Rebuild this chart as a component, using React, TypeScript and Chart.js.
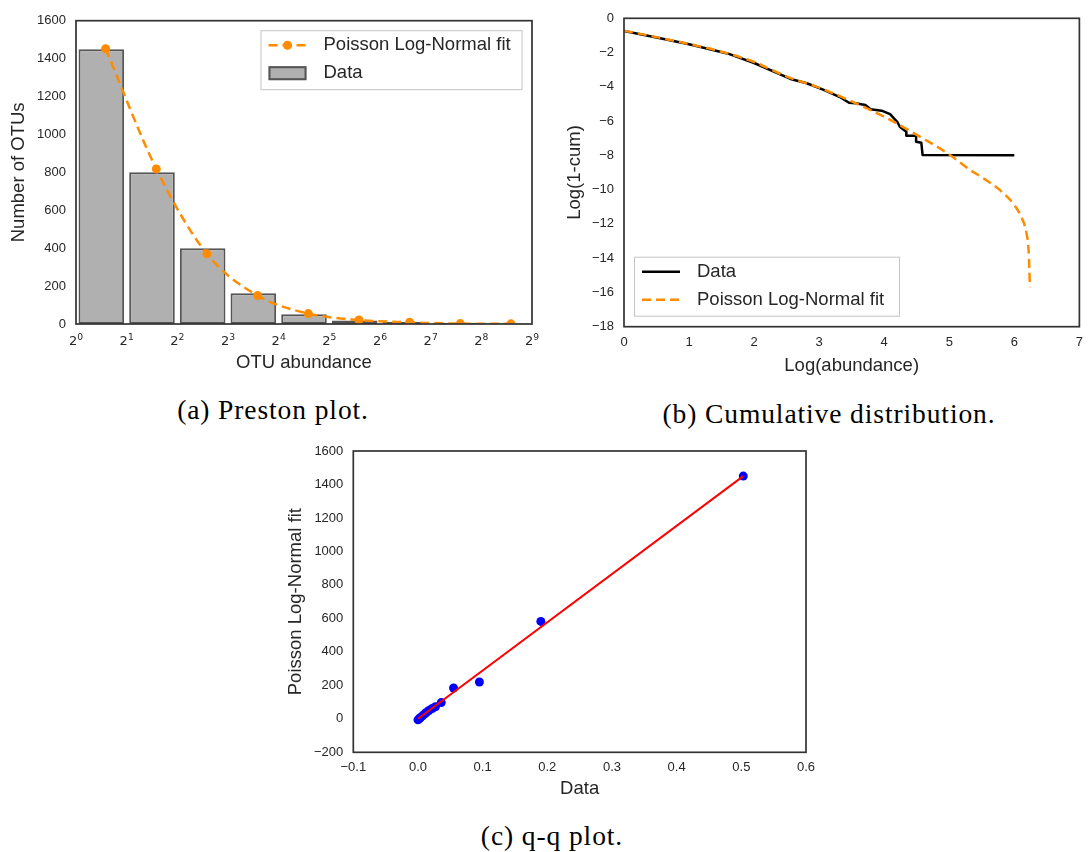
import React, { useEffect, useRef } from 'react';
import { Chart, registerables } from 'chart.js';

Chart.register(...registerables);

const FONT = "'Liberation Sans', Arial, Helvetica, sans-serif";
const MATH_FONT = "'DejaVu Sans', 'Liberation Sans', sans-serif";
const INK = '#262626';
const ORANGE = '#ff8c00';
const BAR_FILL = '#b0b0b0';
const BAR_EDGE = '#555555';
const FRAME = '#333333';

Chart.defaults.font.family = FONT;
Chart.defaults.color = INK;

// (a) Preston plot: OTUs per octave of abundance
const OCTAVE_LOWER = [1, 2, 4, 8, 16, 32, 64, 128, 256];
const OTU_COUNTS = [1450, 800, 400, 162, 52, 19, 11, 5, 2];
const FIT_ABUNDANCE = [1.5, 3, 6, 12, 24, 48, 96, 192, 384];
const FIT_COUNTS = [1452, 818, 370, 150, 55, 21, 9, 2, 1];
const OCTAVE_TICKS = [1, 2, 4, 8, 16, 32, 64, 128, 256, 512];

// (b) Cumulative distribution, log scale
const CUM_DATA_X = [0, 0.5, 1, 1.59, 2, 2.56, 2.81, 3.07, 3.31, 3.46, 3.56, 3.71, 3.79, 3.96, 4.09, 4.15, 4.2, 4.24, 4.34, 4.34, 4.49, 4.49, 4.57, 4.59, 6.0];
const CUM_DATA_Y = [-0.74, -1.12, -1.51, -2.05, -2.61, -3.54, -3.79, -4.18, -4.58, -4.93, -4.96, -5.06, -5.31, -5.39, -5.59, -5.84, -6.04, -6.33, -6.62, -6.85, -6.85, -7.2, -7.26, -7.98, -8.0];
const CUM_FIT_X = [0, 0.5, 1, 1.5, 2, 2.5, 3, 3.5, 4, 4.5, 5, 5.3, 5.55, 5.8, 6.0, 6.12, 6.19, 6.22, 6.24];
const CUM_FIT_Y = [-0.72, -1.1, -1.5, -1.95, -2.55, -3.4, -4.05, -4.85, -5.75, -6.8, -7.95, -8.8, -9.4, -10.1, -10.9, -11.7, -12.6, -13.6, -15.7];

// (c) q-q plot
const QQ_DATA = [0.0, 0.002, 0.004, 0.007, 0.010, 0.013, 0.017, 0.022, 0.027, 0.036, 0.055, 0.095, 0.19, 0.503];
const QQ_FIT = [-6, 0, 8, 18, 28, 38, 50, 62, 72, 97, 184, 220, 582, 1450];
const QQ_LINE_X = [0, 0.503];
const QQ_LINE_Y = [0, 1450];

const minus = (s: string) => s.replace('-', '\u2212');
const toPoints = (xs: number[], ys: number[]) => xs.map((x, i) => ({ x, y: ys[i] }));

const framePlugin = {
  id: 'frame',
  afterDatasetsDraw(chart: any) {
    const { ctx, chartArea: a } = chart;
    ctx.save();
    ctx.strokeStyle = FRAME;
    ctx.lineWidth = 1.7;
    ctx.strokeRect(a.left, a.top, a.right - a.left, a.bottom - a.top);
    ctx.restore();
  },
};

// Power-of-two tick labels with a raised exponent, placed by the x scale
const octaveLabels = {
  id: 'octaveLabels',
  afterDraw(chart: any) {
    const { ctx, chartArea: a } = chart;
    const scale = chart.scales.x;
    const baseSize = 13;
    const expSize = 9.2;
    const baseline = a.bottom + 21;
    ctx.save();
    ctx.fillStyle = INK;
    ctx.textBaseline = 'alphabetic';
    ctx.textAlign = 'left';
    OCTAVE_TICKS.forEach((v) => {
      const exp = String(Math.round(Math.log2(v)));
      ctx.font = `${baseSize}px ${MATH_FONT}`;
      const wBase = ctx.measureText('2').width;
      ctx.font = `${expSize}px ${MATH_FONT}`;
      const wExp = ctx.measureText(exp).width;
      const x = scale.getPixelForValue(v) - (wBase + wExp) / 2;
      ctx.font = `${baseSize}px ${MATH_FONT}`;
      ctx.fillText('2', x, baseline);
      ctx.font = `${expSize}px ${MATH_FONT}`;
      ctx.fillText(exp, x + wBase, baseline - 5);
    });
    ctx.restore();
  },
};

type LegendRow = { label: string; index: number; kind: 'bar' | 'line' | 'linePoint' };
type LegendSpec = { anchor: 'upper right' | 'lower left'; inset: number; width: number; height: number; rows: LegendRow[] };

function boxLegend(spec: LegendSpec) {
  return {
    id: 'boxLegend',
    afterDraw(chart: any) {
      const { ctx, chartArea: a } = chart;
      const left = spec.anchor === 'upper right' ? a.right - spec.inset - spec.width : a.left + spec.inset;
      const top = spec.anchor === 'upper right' ? a.top + spec.inset : a.bottom - spec.inset - spec.height;
      ctx.save();
      ctx.fillStyle = '#ffffff';
      ctx.fillRect(left, top, spec.width, spec.height);
      ctx.strokeStyle = '#c4c4c4';
      ctx.lineWidth = 1;
      ctx.strokeRect(left + 0.5, top + 0.5, spec.width - 1, spec.height - 1);
      spec.rows.forEach((row, i) => {
        const ds = chart.data.datasets[row.index];
        const y = top + 15 + i * 28;
        const x0 = left + 8;
        const x1 = x0 + 38;
        if (row.kind === 'bar') {
          ctx.fillStyle = ds.backgroundColor;
          ctx.fillRect(x0, y - 7, 38, 14);
          ctx.strokeStyle = ds.borderColor;
          ctx.lineWidth = 2;
          ctx.strokeRect(x0 + 1, y - 6, 36, 12);
        } else {
          ctx.strokeStyle = ds.borderColor;
          ctx.lineWidth = ds.borderWidth;
          ctx.setLineDash(ds.borderDash || []);
          ctx.beginPath();
          ctx.moveTo(x0, y);
          ctx.lineTo(x1, y);
          ctx.stroke();
          ctx.setLineDash([]);
          if (row.kind === 'linePoint') {
            ctx.fillStyle = ds.pointBackgroundColor;
            ctx.beginPath();
            ctx.arc((x0 + x1) / 2, y, ds.pointRadius, 0, Math.PI * 2);
            ctx.fill();
          }
        }
        ctx.fillStyle = INK;
        ctx.font = `18.5px ${FONT}`;
        ctx.textAlign = 'left';
        ctx.textBaseline = 'middle';
        ctx.fillText(row.label, left + 63, y);
      });
      ctx.restore();
    },
  };
}

const tickFont = { size: 13 };
const titleFont = { size: 18.5 };
const noGrid = { display: false, drawTicks: false };
const noBorder = { display: false };

function prestonConfig(): any {
  return {
    type: 'bar',
    data: {
      datasets: [
        {
          type: 'line',
          label: 'Poisson Log-Normal fit',
          data: toPoints(FIT_ABUNDANCE, FIT_COUNTS),
          borderColor: ORANGE,
          backgroundColor: ORANGE,
          borderWidth: 2.5,
          borderDash: [9, 5],
          pointRadius: 4.5,
          pointBackgroundColor: ORANGE,
          pointBorderWidth: 0,
          cubicInterpolationMode: 'monotone',
          order: 0,
        },
        {
          type: 'bar',
          label: 'Data',
          data: toPoints(OCTAVE_LOWER.map((lo) => lo * Math.SQRT2), OTU_COUNTS),
          backgroundColor: BAR_FILL,
          borderColor: BAR_EDGE,
          borderWidth: 2,
          borderSkipped: false,
          barPercentage: 0.9,
          categoryPercentage: 1,
          order: 1,
        },
      ],
    },
    options: {
      animation: false,
      responsive: false,
      events: [],
      layout: { padding: { top: 20.7, right: 13, bottom: 0, left: 0 } },
      plugins: { legend: { display: false }, tooltip: { enabled: false } },
      scales: {
        x: {
          type: 'logarithmic',
          min: 1,
          max: 512,
          offset: false,
          grid: noGrid,
          border: noBorder,
          afterBuildTicks: (s: any) => {
            s.ticks = OCTAVE_TICKS.map((v) => ({ value: v }));
          },
          ticks: { display: false },
          title: { display: true, text: 'OTU abundance', color: INK, font: titleFont, padding: { top: 0, bottom: 6 } },
          afterFit: (s: any) => {
            s.height = 56;
          },
        },
        y: {
          min: 0,
          max: 1600,
          grid: noGrid,
          border: noBorder,
          ticks: { stepSize: 200, padding: 10, color: INK, font: tickFont, callback: (v: any) => String(v) },
          title: { display: true, text: 'Number of OTUs', color: INK, font: titleFont, padding: { top: 8, bottom: 0 } },
          afterFit: (s: any) => {
            s.width = 76;
          },
        },
      },
    },
    plugins: [
      framePlugin,
      octaveLabels,
      boxLegend({
        anchor: 'upper right',
        inset: 9.5,
        width: 262,
        height: 60,
        rows: [
          { label: 'Poisson Log-Normal fit', index: 0, kind: 'linePoint' },
          { label: 'Data', index: 1, kind: 'bar' },
        ],
      }),
    ],
  };
}

function cumulativeConfig(): any {
  return {
    type: 'line',
    data: {
      datasets: [
        {
          label: 'Data',
          data: toPoints(CUM_DATA_X, CUM_DATA_Y),
          borderColor: '#000000',
          borderWidth: 2.5,
          borderJoinStyle: 'round',
          pointRadius: 0,
          tension: 0,
          order: 1,
        },
        {
          label: 'Poisson Log-Normal fit',
          data: toPoints(CUM_FIT_X, CUM_FIT_Y),
          borderColor: ORANGE,
          borderWidth: 2.5,
          borderDash: [9, 5],
          pointRadius: 0,
          cubicInterpolationMode: 'monotone',
          order: 0,
        },
      ],
    },
    options: {
      animation: false,
      responsive: false,
      events: [],
      layout: { padding: { top: 18.3, right: 3, bottom: 0, left: 0 } },
      plugins: { legend: { display: false }, tooltip: { enabled: false } },
      scales: {
        x: {
          type: 'linear',
          min: 0,
          max: 7,
          grid: noGrid,
          border: noBorder,
          ticks: { stepSize: 1, padding: 8, color: INK, font: tickFont, maxRotation: 0, callback: (v: any) => minus(String(v)) },
          title: { display: true, text: 'Log(abundance)', color: INK, font: titleFont, padding: { top: 0, bottom: 3 } },
          afterFit: (s: any) => {
            s.height = 53.3;
          },
        },
        y: {
          min: -18,
          max: 0,
          grid: noGrid,
          border: noBorder,
          ticks: { stepSize: 2, padding: 10, color: INK, font: tickFont, callback: (v: any) => minus(String(v)) },
          title: { display: true, text: 'Log(1-cum)', color: INK, font: titleFont, padding: { top: 14, bottom: 0 } },
          afterFit: (s: any) => {
            s.width = 74;
          },
        },
      },
    },
    plugins: [
      framePlugin,
      boxLegend({
        anchor: 'lower left',
        inset: 10,
        width: 266,
        height: 60,
        rows: [
          { label: 'Data', index: 0, kind: 'line' },
          { label: 'Poisson Log-Normal fit', index: 1, kind: 'line' },
        ],
      }),
    ],
  };
}

const fmtFixed1 = (v: any) => {
  const n = Number(v);
  return minus((Math.abs(n) < 1e-9 ? 0 : n).toFixed(1));
};

function qqConfig(): any {
  return {
    type: 'scatter',
    data: {
      datasets: [
        {
          label: 'identity',
          data: toPoints(QQ_LINE_X, QQ_LINE_Y),
          showLine: true,
          borderColor: '#ff0000',
          borderWidth: 2,
          pointRadius: 0,
          order: 0,
        },
        {
          label: 'quantiles',
          data: toPoints(QQ_DATA, QQ_FIT),
          backgroundColor: '#0000ff',
          borderWidth: 0,
          pointRadius: 4.5,
          order: 1,
        },
      ],
    },
    options: {
      animation: false,
      responsive: false,
      events: [],
      layout: { padding: { top: 21, right: 24, bottom: 0, left: 0 } },
      plugins: { legend: { display: false }, tooltip: { enabled: false } },
      scales: {
        x: {
          type: 'linear',
          min: -0.1,
          max: 0.6,
          grid: noGrid,
          border: noBorder,
          ticks: { stepSize: 0.1, padding: 7, color: INK, font: tickFont, maxRotation: 0, callback: fmtFixed1 },
          title: { display: true, text: 'Data', color: INK, font: titleFont, padding: { top: 0, bottom: 10 } },
          afterFit: (s: any) => {
            s.height = 57.7;
          },
        },
        y: {
          min: -200,
          max: 1600,
          grid: noGrid,
          border: noBorder,
          ticks: { stepSize: 200, padding: 10, color: INK, font: tickFont, callback: (v: any) => minus(String(v)) },
          title: { display: true, text: 'Poisson Log-Normal fit', color: INK, font: titleFont, padding: { top: 14.4, bottom: 0 } },
          afterFit: (s: any) => {
            s.width = 83.3;
          },
        },
      },
    },
    plugins: [framePlugin],
  };
}

function ChartCanvas({ left, top, width, height, build }: { left: number; top: number; width: number; height: number; build: () => any }) {
  const ref = useRef<HTMLCanvasElement | null>(null);
  useEffect(() => {
    if (!ref.current) return;
    const chart = new Chart(ref.current, build());
    return () => chart.destroy();
  }, [build]);
  return (
    <canvas
      ref={ref}
      width={width}
      height={height}
      style={{ position: 'absolute', left, top, width, height, display: 'block' }}
    />
  );
}

const captionBase: React.CSSProperties = {
  position: 'absolute',
  width: 600,
  textAlign: 'center',
  fontFamily: "'Liberation Serif', 'Times New Roman', serif",
  fontSize: 27.5,
  letterSpacing: '0.9px',
  lineHeight: '32px',
  color: '#000000',
  whiteSpace: 'nowrap',
};

function Caption({ cx, cy, text }: { cx: number; cy: number; text: string }) {
  return <div style={{ ...captionBase, left: cx - 300, top: cy - 16 }}>{text}</div>;
}

export default function App() {
  return (
    <div style={{ position: 'absolute', left: 0, top: 0, width: 1091, height: 852, background: '#ffffff', overflow: 'hidden' }}>
      <ChartCanvas left={0} top={0} width={545} height={380} build={prestonConfig} />
      <ChartCanvas left={550} top={0} width={541} height={380} build={cumulativeConfig} />
      <ChartCanvas left={270} top={430} width={560} height={380} build={qqConfig} />
      <Caption cx={273} cy={410} text="(a) Preston plot." />
      <Caption cx={829} cy={414} text="(b) Cumulative distribution." />
      <Caption cx={552} cy={836} text="(c) q-q plot." />
    </div>
  );
}
